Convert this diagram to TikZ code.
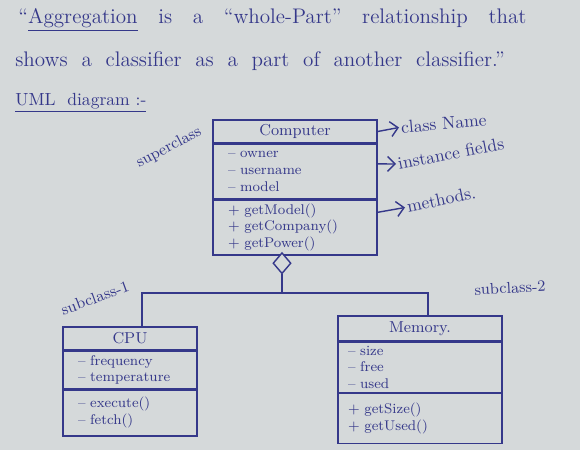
\documentclass[tikz,border=0pt]{standalone}
\usepackage{tikz}
\usetikzlibrary{arrows.meta,positioning,calc,shapes.geometric}
\definecolor{ink}{HTML}{35388A}
\definecolor{paper}{HTML}{D5D9DA}
\tikzset{clsname/.style={rectangle,draw=ink,text=ink,thick,inner sep=1pt,font=\small},
  clsbody/.style={rectangle,draw=ink,text=ink,thick,inner xsep=0.3cm,inner ysep=2pt,
  align=left,anchor=north,font=\footnotesize},
  note/.style={-{Straight Barb[length=1.5mm]},draw=ink,thick},
  link/.style={draw=ink,thick},
  aggdiamond/.style={diamond,draw=ink,thick,fill=paper,minimum width=0.36cm,
  minimum height=0.42cm,inner sep=0pt},
  notetext/.style={text=ink,font=\normalsize,inner sep=1pt},
  heading/.style={text=ink,anchor=west,font=\large,inner sep=0pt}}

\begin{document}
\begin{tikzpicture}
 \fill[paper] (0,0) rectangle (11.6,9);
 \useasboundingbox (0,0) rectangle (11.6,9);
 % definition text
 \node[heading] (line1) at (0.36,8.6) {``\underline{Aggregation} \ \ is \ \ a \ \ ``whole-Part'' \ \ relationship \ \ that};
 \node[heading] (line2) at (0.3,7.78) {shows \ a \ classifier \ as \ a \ part \ of \ another \ classifier.''};
 \node[heading,font=\normalsize] (line3) at (0.3,6.94) {\underline{UML \ diagram :-}};
 % superclass
 \node[clsname,minimum width=3.28cm,minimum height=0.46cm] (compname) at (5.9,6.37) {Computer};
 \node[clsbody,minimum width=3.28cm,minimum height=1.08cm,text width=2.68cm] (compfields)
   at (compname.south) {-- owner\\-- username\\-- model};
 \node[clsbody,minimum width=3.28cm,minimum height=1.10cm,text width=2.68cm] (compmeth)
   at (compfields.south) {+ getModel()\\+ getCompany()\\+ getPower()};
 \node[notetext,font=\small] (superlbl) at (3.38,6.05) [rotate=28] {superclass};
 % annotations
 \node[notetext,anchor=west,rotate=5] (namelbl) at (7.98,6.45) {class Name};
 \node[notetext,anchor=west,rotate=11] (fieldlbl) at (7.92,5.72) {instance fields};
 \node[notetext,anchor=west,rotate=12] (methlbl) at (8.1,4.85) {methods.};
 \draw[note] (compname.east) -- (namelbl.west);
 \draw[note] ([yshift=0.15cm]compfields.east) -- (fieldlbl.west);
 \draw[note] ([yshift=0.3cm]compmeth.east) -- (methlbl.west);
 % aggregation
 \node[aggdiamond,anchor=north] (agg) at (5.64,3.96) {};
 \coordinate (bus) at (5.64,3.14);
 % subclasses
 \node[clsname,minimum width=2.68cm,minimum height=0.46cm] (cpuname) at (2.6,2.23) {CPU};
 \node[clsbody,minimum width=2.68cm,minimum height=0.74cm,text width=2.08cm] (cpufields)
   at (cpuname.south) {-- frequency\\-- temperature};
 \node[clsbody,minimum width=2.68cm,minimum height=0.92cm,text width=2.08cm] (cpumeth)
   at (cpufields.south) {-- execute()\\-- fetch()};
 \node[clsname,minimum width=3.28cm,minimum height=0.5cm] (memname) at (8.4,2.43) {Memory.};
 \node[clsbody,minimum width=3.28cm,minimum height=0.88cm,text width=2.88cm,inner xsep=0.2cm] (memfields)
   at (memname.south) {-- size\\-- free\\-- used};
 \node[clsbody,minimum width=3.28cm,minimum height=1.0cm,text width=2.88cm,inner xsep=0.2cm] (memmeth)
   at (memfields.south) {+ getSize()\\+ getUsed()};
 \node[notetext,font=\small,rotate=20] (sub1lbl) at (1.9,3.04) {subclass-1};
 \node[notetext,font=\small,rotate=3] (sub2lbl) at (10.2,3.24) {subclass-2};
 \draw[link] (agg.south) -- (bus);
 \draw[link] (bus) -| ([xshift=0.24cm]cpuname.north);
 \draw[link] (bus) -| ([xshift=0.16cm]memname.north);
\end{tikzpicture}
\end{document}
